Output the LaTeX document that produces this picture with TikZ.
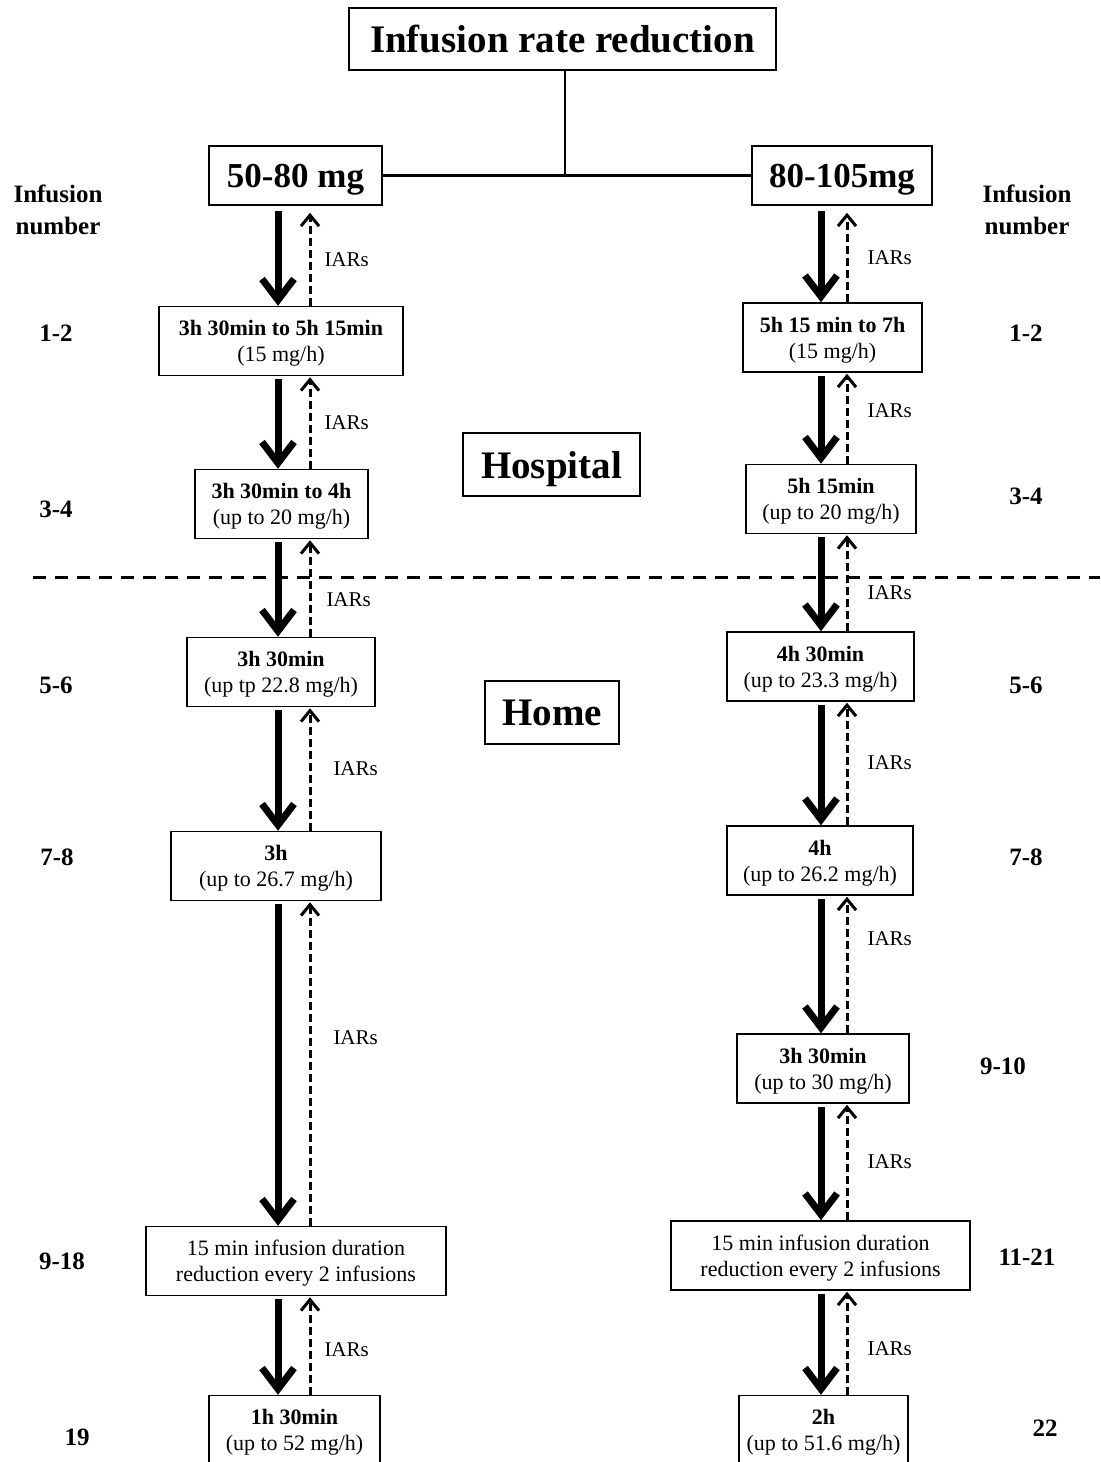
\documentclass[tikz,border=0pt]{standalone}
\usepackage{fontspec}
\setmainfont{Liberation Serif}
\usetikzlibrary{arrows.meta}

\tikzset{
  stage/.style={draw, line width=0.75pt, align=center, minimum height=34.5pt, inner sep=2pt, text depth=0pt, font=\fontsize{11}{13}\selectfont},
  dose/.style={draw, line width=0.75pt, minimum height=29.5pt, inner sep=2pt, text depth=0pt, font=\fontsize{17.5}{20}\selectfont\bfseries},
  place/.style={draw, line width=0.75pt, minimum height=31.5pt, inner sep=2pt, text depth=0pt, font=\fontsize{19.5}{22}\selectfont\bfseries},
  count/.style={align=center, font=\fontsize{12.5}{16}\selectfont\bfseries},
  branch/.style={line width=1.25pt},
  down/.style={line width=3.5pt, -{Straight Barb[length=10.5pt,width=16pt]}, shorten <=1.5pt},
  back/.style={line width=1.5pt, dash pattern=on 4pt off 2pt, -{Straight Barb[length=5.5pt,width=9pt]}, shorten >=0.5pt},
  iar/.style={right, inner sep=0pt, font=\fontsize{10.5}{12}\selectfont},
}

\begin{document}
\begin{tikzpicture}[x=0.5pt, y=-0.5pt]
  \useasboundingbox (0,0) rectangle (1100,1462);

  % Top
  \draw(562.5,39) node[place, minimum width=213.5pt, minimum height=31pt] (title) {Infusion rate reduction};
  \draw(295.5,175.5) node[dose, minimum width=86.5pt] (low) {50-80 mg};
  \draw(842,175.5) node[dose, minimum width=90pt] (high) {80-105mg};
  \coordinate (split) at (565,175);
  \draw[branch] (title.south -| split) -- (split);
  \draw[branch] (low.east) -- (high.west);

  % Infusion numbers
  \draw(58,210) node[count] (numl) {Infusion\\number};
  \draw(1027,210) node[count] (numr) {Infusion\\number};
  \draw(56,333) node[count] (nl1) {1-2};
  \draw(56,509) node[count] (nl2) {3-4};
  \draw(56,685) node[count] (nl3) {5-6};
  \draw(57,857) node[count] (nl4) {7-8};
  \draw(62,1261) node[count] (nl5) {9-18};
  \draw(77,1437) node[count] (nl6) {19};
  \draw(1026,333) node[count] (nr1) {1-2};
  \draw(1026,496) node[count] (nr2) {3-4};
  \draw(1026,685) node[count] (nr3) {5-6};
  \draw(1026,857) node[count] (nr4) {7-8};
  \draw(1003,1066) node[count] (nr5) {9-10};
  \draw(1027,1257) node[count] (nr6) {11-21};
  \draw(1045,1428) node[count] (nr7) {22};

  % Hospital / Home
  \draw(551.5,464.5) node[place, minimum width=88.5pt] (hospital) {Hospital};
  \draw(552,712.5) node[place, minimum width=67pt] (home) {Home};
  \coordinate (cutl) at (33,577);
  \coordinate (cutr) at (1100,577);
  \draw[line width=1.5pt, dash pattern=on 6.5pt off 4.5pt] (cutl) -- (cutr);

  % Left column
  \draw(281,341) node[stage, minimum width=122pt] (l1) {\textbf{3h 30min to 5h 15min}\\(15 mg/h)};
  \draw(281.5,504) node[stage, minimum width=86.5pt] (l2) {\textbf{3h 30min to 4h}\\(up to 20 mg/h)};
  \draw(281,672) node[stage, minimum width=94pt] (l3) {\textbf{3h 30min}\\(up tp 22.8 mg/h)};
  \draw(276,866) node[stage, minimum width=105pt] (l4) {\textbf{3h}\\(up to 26.7 mg/h)};
  \draw(296,1261) node[stage, minimum width=150pt] (l5) {15 min infusion duration\\reduction every 2 infusions};
  \draw(294.5,1430) node[stage, minimum width=85.5pt] (l6) {\textbf{1h 30min}\\(up to 52 mg/h)};

  % Right column
  \draw(832.5,337.5) node[stage, minimum width=89.5pt] (r1) {\textbf{5h 15 min to 7h}\\(15 mg/h)};
  \draw(831,499) node[stage, minimum width=85pt] (r2) {\textbf{5h 15min}\\(up to 20 mg/h)};
  \draw(820.5,666.5) node[stage, minimum width=93.5pt] (r3) {\textbf{4h 30min}\\(up to 23.3 mg/h)};
  \draw(820,860.5) node[stage, minimum width=93pt] (r4) {\textbf{4h}\\(up to 26.2 mg/h)};
  \draw(823,1068.5) node[stage, minimum width=86pt] (r5) {\textbf{3h 30min}\\(up to 30 mg/h)};
  \draw(820.5,1255.5) node[stage, minimum width=149.5pt] (r6) {15 min infusion duration\\reduction every 2 infusions};
  \draw(823.5,1430) node[stage, minimum width=84.5pt] (r7) {\textbf{2h}\\(up to 51.6 mg/h)};

  % Arrows left
  \coordinate (lc) at (278,0);
  \coordinate (ld) at (310,0);
  \draw[down, shorten <=2.5pt] (low.south -| lc) -- (l1.north -| lc);
  \draw[back, shorten >=3.5pt] (l1.north -| ld) -- (low.south -| ld) node[iar, xshift=6.5pt, pos=0.46] (il1) {IARs};
  \draw[down] (l1.south -| lc) -- (l2.north -| lc);
  \draw[back] (l2.north -| ld) -- (l1.south -| ld) node[iar, xshift=6.5pt, pos=0.5] (il2) {IARs};
  \draw[down] (l2.south -| lc) -- (l3.north -| lc);
  \draw[back] (l3.north -| ld) -- (l2.south -| ld) node[iar, xshift=7.5pt, pos=0.38] (il3) {IARs};
  \draw[down] (l3.south -| lc) -- (l4.north -| lc);
  \draw[back] (l4.north -| ld) -- (l3.south -| ld) node[iar, xshift=11pt, pos=0.5] (il4) {IARs};
  \draw[down] (l4.south -| lc) -- (l5.north -| lc);
  \draw[back] (l5.north -| ld) -- (l4.south -| ld) node[iar, xshift=11pt, pos=0.58] (il5) {IARs};
  \draw[down] (l5.south -| lc) -- (l6.north -| lc);
  \draw[back] (l6.north -| ld) -- (l5.south -| ld) node[iar, xshift=6.5pt, pos=0.46] (il6) {IARs};

  % Arrows right
  \coordinate (rc) at (821,0);
  \coordinate (rd) at (847,0);
  \draw[down, shorten <=2.5pt] (high.south -| rc) -- (r1.north -| rc);
  \draw[back, shorten >=3.5pt] (r1.north -| rd) -- (high.south -| rd) node[iar, xshift=9.5pt, pos=0.46] (ir1) {IARs};
  \draw[down] (r1.south -| rc) -- (r2.north -| rc);
  \draw[back] (r2.north -| rd) -- (r1.south -| rd) node[iar, xshift=9.5pt, pos=0.58] (ir2) {IARs};
  \draw[down] (r2.south -| rc) -- (r3.north -| rc);
  \draw[back] (r3.north -| rd) -- (r2.south -| rd) node[iar, xshift=9.5pt, pos=0.40] (ir3) {IARs};
  \draw[down] (r3.south -| rc) -- (r4.north -| rc);
  \draw[back] (r4.north -| rd) -- (r3.south -| rd) node[iar, xshift=9.5pt, pos=0.51] (ir4) {IARs};
  \draw[down] (r4.south -| rc) -- (r5.north -| rc);
  \draw[back] (r5.north -| rd) -- (r4.south -| rd) node[iar, xshift=9.5pt, pos=0.69] (ir5) {IARs};
  \draw[down] (r5.south -| rc) -- (r6.north -| rc);
  \draw[back] (r6.north -| rd) -- (r5.south -| rd) node[iar, xshift=9.5pt, pos=0.5] (ir6) {IARs};
  \draw[down] (r6.south -| rc) -- (r7.north -| rc);
  \draw[back] (r7.north -| rd) -- (r6.south -| rd) node[iar, xshift=9.5pt, pos=0.44] (ir7) {IARs};

\end{tikzpicture}
\end{document}
